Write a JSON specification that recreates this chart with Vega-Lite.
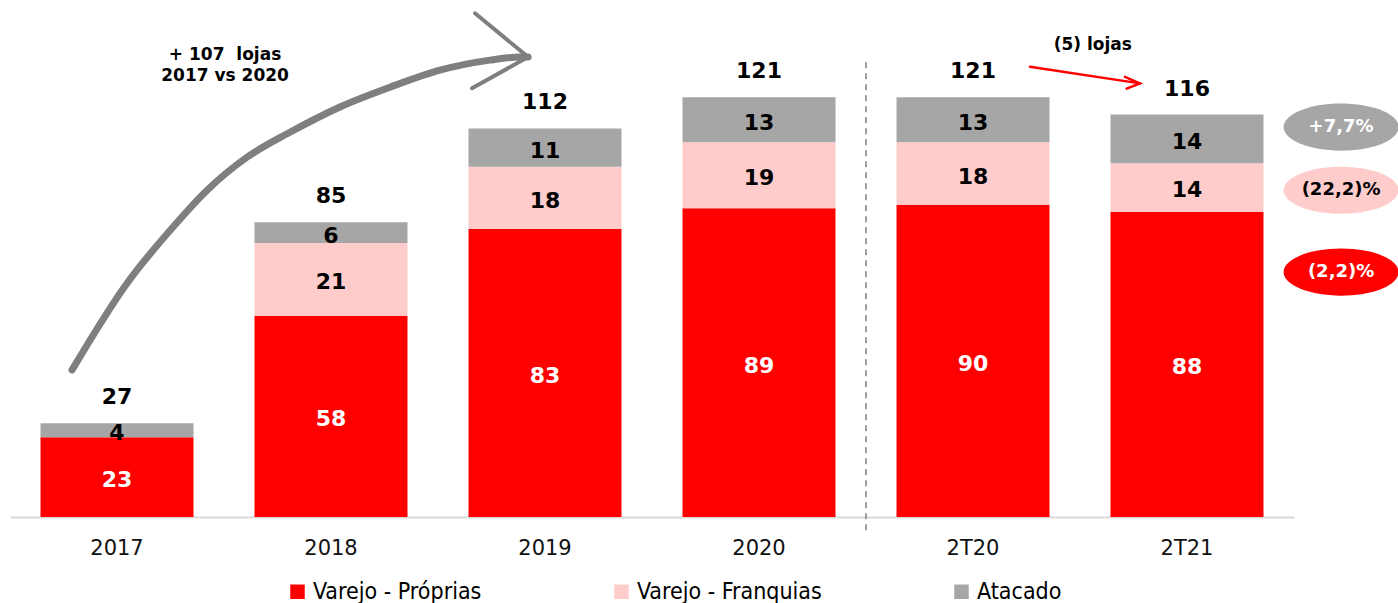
{
  "$schema": "https://vega.github.io/schema/vega-lite/v6.json",
  "autosize": {"type": "none"},
  "padding": {"left": 10, "top": 14, "right": 104, "bottom": 86},
  "width": 1284,
  "height": 503,
  "background": "white",
  "config": {
    "view": {"stroke": null},
    "axis": {"grid": false},
    "text": {"font": "DejaVu Sans"}
  },
  "resolve": {"scale": {"x": "independent"}},
  "layer": [
    {
      "data": {
        "values": [
          {"period": "2017", "series": "Varejo - Próprias", "value": 23, "ord": 1},
          {"period": "2017", "series": "Atacado", "value": 4, "ord": 3},
          {"period": "2018", "series": "Varejo - Próprias", "value": 58, "ord": 1},
          {"period": "2018", "series": "Varejo - Franquias", "value": 21, "ord": 2},
          {"period": "2018", "series": "Atacado", "value": 6, "ord": 3},
          {"period": "2019", "series": "Varejo - Próprias", "value": 83, "ord": 1},
          {"period": "2019", "series": "Varejo - Franquias", "value": 18, "ord": 2},
          {"period": "2019", "series": "Atacado", "value": 11, "ord": 3},
          {"period": "2020", "series": "Varejo - Próprias", "value": 89, "ord": 1},
          {"period": "2020", "series": "Varejo - Franquias", "value": 19, "ord": 2},
          {"period": "2020", "series": "Atacado", "value": 13, "ord": 3},
          {"period": "2T20", "series": "Varejo - Próprias", "value": 90, "ord": 1},
          {"period": "2T20", "series": "Varejo - Franquias", "value": 18, "ord": 2},
          {"period": "2T20", "series": "Atacado", "value": 13, "ord": 3},
          {"period": "2T21", "series": "Varejo - Próprias", "value": 88, "ord": 1},
          {"period": "2T21", "series": "Varejo - Franquias", "value": 14, "ord": 2},
          {"period": "2T21", "series": "Atacado", "value": 14, "ord": 3}
        ]
      },
      "encoding": {
        "x": {
          "field": "period",
          "type": "nominal",
          "scale": {"domain": ["2017", "2018", "2019", "2020", "2T20", "2T21"], "paddingInner": 0.285, "paddingOuter": 0.1425},
          "axis": {
            "title": null,
            "labelAngle": 0,
            "ticks": false,
            "labelFont": "DejaVu Sans",
            "labelFontSize": 21,
            "labelColor": "#111111",
            "labelPadding": 20,
            "domainColor": "#d9d9d9",
            "domainWidth": 2
          }
        }
      },
      "layer": [
        {
          "mark": {"type": "bar"},
          "encoding": {
            "y": {"field": "value", "type": "quantitative", "stack": "zero", "scale": {"domain": [0, 145], "nice": false}, "axis": null},
            "color": {
              "field": "series",
              "type": "nominal",
              "scale": {"domain": ["Varejo - Próprias", "Varejo - Franquias", "Atacado"], "range": ["#ff0000", "#ffcccc", "#a6a6a6"]},
              "legend": {
                "orient": "none",
                "legendX": 276,
                "legendY": 566,
                "direction": "horizontal",
                "title": null,
                "symbolType": "square",
                "symbolSize": 210,
                "symbolStrokeWidth": 0,
                "labelFont": "DejaVu Sans Condensed",
                "labelFontSize": 23,
                "labelColor": "#000000",
                "labelOffset": 4,
                "columnPadding": 128,
                "labelLimit": 400
              }
            },
            "order": {"field": "ord", "type": "quantitative"}
          }
        },
        {
          "transform": [
            {"stack": "value", "groupby": ["period"], "sort": [{"field": "ord"}], "as": ["v0", "v1"]},
            {"calculate": "(datum.v0 + datum.v1) / 2", "as": "mid"}
          ],
          "mark": {"type": "text", "fontWeight": "bold", "fontSize": 22, "baseline": "alphabetic", "dy": 10},
          "encoding": {
            "y": {"field": "mid", "type": "quantitative", "scale": {"domain": [0, 145], "nice": false}},
            "text": {"field": "value", "type": "quantitative"},
            "color": {"condition": {"test": "datum.series === 'Varejo - Próprias'", "value": "#ffffff"}, "value": "#000000"}
          }
        },
        {
          "transform": [
            {"aggregate": [{"op": "sum", "field": "value", "as": "total"}], "groupby": ["period"]}
          ],
          "mark": {"type": "text", "fontWeight": "bold", "fontSize": 22, "baseline": "alphabetic", "dy": -19, "color": "#000000"},
          "encoding": {
            "y": {"field": "total", "type": "quantitative", "scale": {"domain": [0, 145], "nice": false}},
            "text": {"field": "total", "type": "quantitative"}
          }
        }
      ]
    },
    {
      "encoding": {
        "x": {"field": "x", "type": "quantitative", "scale": {"domain": [0, 6], "nice": false, "zero": false}, "axis": null}
      },
      "layer": [
        {
          "data": {
            "values": [
              {"x": 0.290, "y": 42.4, "i": 1},
              {"x": 0.547, "y": 67.4, "i": 2},
              {"x": 0.762, "y": 83.6, "i": 3},
              {"x": 0.921, "y": 94.2, "i": 4},
              {"x": 1.107, "y": 103.7, "i": 5},
              {"x": 1.308, "y": 110.9, "i": 6},
              {"x": 1.542, "y": 118.2, "i": 7},
              {"x": 1.776, "y": 123.9, "i": 8},
              {"x": 2.009, "y": 128.8, "i": 9},
              {"x": 2.243, "y": 131.7, "i": 10},
              {"x": 2.383, "y": 132.6, "i": 11},
              {"x": 2.421, "y": 132.6, "i": 12}
            ]
          },
          "mark": {"type": "line", "interpolate": "monotone", "color": "#7f7f7f", "strokeWidth": 7, "strokeCap": "round"},
          "encoding": {
            "y": {"field": "y", "type": "quantitative", "scale": {"domain": [0, 145], "nice": false}, "axis": null},
            "order": {"field": "i", "type": "quantitative"}
          }
        },
        {
          "data": {
            "values": [
              {"x": 2.173, "y": 145.2, "i": 1},
              {"x": 2.421, "y": 132.6, "i": 2},
              {"x": 2.159, "y": 123.6, "i": 3}
            ]
          },
          "mark": {"type": "line", "color": "#7f7f7f", "strokeWidth": 4, "strokeCap": "round", "strokeJoin": "miter"},
          "encoding": {
            "y": {"field": "y", "type": "quantitative", "scale": {"domain": [0, 145], "nice": false}},
            "order": {"field": "i", "type": "quantitative"}
          }
        },
        {
          "data": {
            "values": [
              {"x": 4.766, "y": 129.8, "i": 1, "part": "shaft"},
              {"x": 5.28, "y": 125.0, "i": 2, "part": "shaft"},
              {"x": 5.21, "y": 126.9, "i": 1, "part": "head"},
              {"x": 5.28, "y": 125.0, "i": 2, "part": "head"},
              {"x": 5.218, "y": 123.5, "i": 3, "part": "head"}
            ]
          },
          "mark": {"type": "line", "color": "#ff0000", "strokeWidth": 2.5, "strokeCap": "round"},
          "encoding": {
            "y": {"field": "y", "type": "quantitative", "scale": {"domain": [0, 145], "nice": false}},
            "detail": {"field": "part", "type": "nominal"},
            "order": {"field": "i", "type": "quantitative"}
          }
        },
        {
          "data": {
            "values": [
              {"x": 4.0, "y": 131.1, "y2": -5.2}
            ]
          },
          "mark": {"type": "rule", "color": "#7f7f7f", "strokeWidth": 1.5, "strokeDash": [6, 5]},
          "encoding": {
            "y": {"field": "y", "type": "quantitative", "scale": {"domain": [0, 145], "nice": false}},
            "y2": {"field": "y2"}
          }
        },
        {
          "data": {
            "values": [
              {"x": 1.005, "y": 133.1, "label": "+ 107\u00a0 lojas"},
              {"x": 1.005, "y": 127.1, "label": "2017 vs 2020"},
              {"x": 5.06, "y": 136.0, "label": "(5) lojas"}
            ]
          },
          "mark": {"type": "text", "fontWeight": "bold", "fontSize": 17, "color": "#000000", "baseline": "middle"},
          "encoding": {
            "y": {"field": "y", "type": "quantitative", "scale": {"domain": [0, 145], "nice": false}},
            "text": {"field": "label", "type": "nominal"}
          }
        },
        {
          "data": {
            "values": [
              {"x": 6.22, "y": 112.4, "series": "Atacado", "label": "+7,7%"},
              {"x": 6.22, "y": 94.2, "series": "Varejo - Franquias", "label": "(22,2)%"},
              {"x": 6.22, "y": 70.6, "series": "Varejo - Próprias", "label": "(2,2)%"}
            ]
          },
          "layer": [
            {
              "mark": {
                "type": "point",
                "filled": true,
                "opacity": 1,
                "strokeWidth": 0,
                "size": 13225,
                "shape": "M -1 0 A 1 0.41 0 1 1 1 0 A 1 0.41 0 1 1 -1 0 Z"
              },
              "encoding": {
                "y": {"field": "y", "type": "quantitative", "scale": {"domain": [0, 145], "nice": false}},
                "fill": {
                  "condition": [
                    {"test": "datum.series === 'Atacado'", "value": "#a6a6a6"},
                    {"test": "datum.series === 'Varejo - Franquias'", "value": "#ffcccc"}
                  ],
                  "value": "#ff0000"
                }
              }
            },
            {
              "mark": {"type": "text", "fontWeight": "bold", "fontSize": 18, "baseline": "middle"},
              "encoding": {
                "y": {"field": "y", "type": "quantitative", "scale": {"domain": [0, 145], "nice": false}},
                "text": {"field": "label", "type": "nominal"},
                "color": {"condition": {"test": "datum.series === 'Varejo - Franquias'", "value": "#000000"}, "value": "#ffffff"}
              }
            }
          ]
        }
      ]
    }
  ]
}
